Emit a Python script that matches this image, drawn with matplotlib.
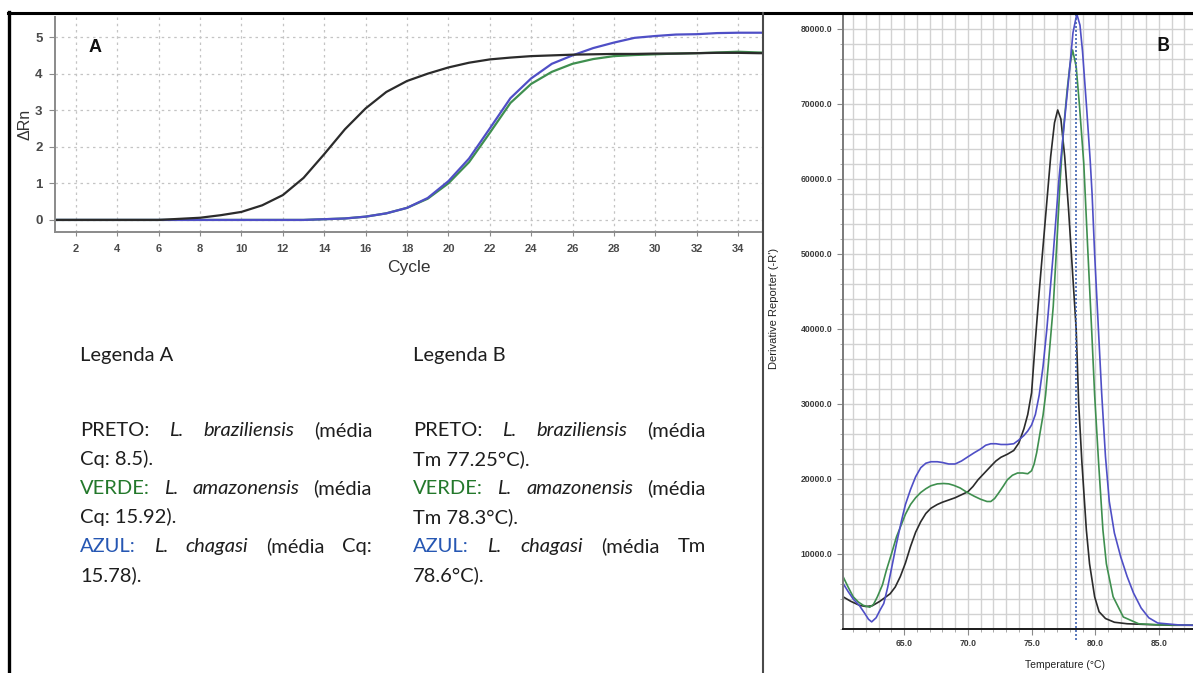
import matplotlib
matplotlib.use("Agg")
import matplotlib.pyplot as plt
from matplotlib.lines import Line2D
from matplotlib.ticker import MultipleLocator, FuncFormatter

W, H, DPI = 1193, 673, 100

# ---- Panel A: amplification plot (delta Rn per cycle) ----
cycles = list(range(1, 37))
rn_braziliensis = [0, 0, 0, 0, 0, 0, 0.03, 0.06, 0.13, 0.22, 0.40, 0.68, 1.15, 1.80,
                   2.48, 3.05, 3.50, 3.80, 4.00, 4.17, 4.30, 4.39, 4.44, 4.48, 4.50,
                   4.52, 4.53, 4.54, 4.54, 4.55, 4.55, 4.56, 4.57, 4.57, 4.56, 4.56]
rn_amazonensis = [0, 0, 0, 0, 0, 0, 0, 0, 0, 0, 0, 0, 0, 0.02,
                  0.04, 0.09, 0.18, 0.33, 0.58, 1.00, 1.58, 2.38, 3.20, 3.72, 4.05,
                  4.27, 4.40, 4.48, 4.51, 4.53, 4.55, 4.56, 4.58, 4.60, 4.58, 4.57]
rn_chagasi = [0, 0, 0, 0, 0, 0, 0, 0, 0, 0, 0, 0, 0, 0.02,
              0.04, 0.09, 0.18, 0.33, 0.60, 1.06, 1.68, 2.50, 3.33, 3.87, 4.27,
              4.50, 4.70, 4.85, 4.98, 5.03, 5.07, 5.08, 5.11, 5.12, 5.12, 5.12]
cycle_ticks = list(range(2, 36, 2))
rn_ticks = [0, 1, 2, 3, 4, 5]

# ---- Panel B: melt curve (derivative reporter vs temperature) ----
temp_braziliensis = [60.2, 60.8, 61.5, 62.0, 62.5, 63.1, 63.9, 64.3, 64.7, 65.1, 65.5, 65.9,
                     66.3, 66.7, 67.1, 67.6, 68.0, 68.5, 69.0, 69.5, 70.0, 70.4, 70.8, 71.3,
                     71.8, 72.2, 72.6, 73.1, 73.6, 74.0, 74.4, 74.7, 75.0, 75.3, 75.6, 75.9,
                     76.2, 76.5, 76.8, 77.05, 77.3, 77.6, 77.9, 78.2, 78.5, 78.7, 78.95, 79.3,
                     79.55, 79.95, 80.3, 80.8, 81.5, 82.5, 84.0, 86.0, 87.7]
deriv_braziliensis = [4300, 3700, 3150, 3000, 3100, 3700, 4700, 5600, 7000, 8800, 11000, 12900,
                      14300, 15400, 16100, 16600, 16900, 17200, 17500, 17900, 18300, 19000, 19900, 20800,
                      21700, 22400, 22900, 23300, 23800, 24800, 26700, 28600, 31500, 38500, 45000, 51000,
                      57000, 63000, 67500, 69200, 68000, 63000, 56000, 48000, 40000, 30000, 22200, 13200,
                      8700, 4300, 2300, 1400, 900, 700, 600, 500, 500]

temp_amazonensis = [60.2, 60.6, 61.0, 61.4, 61.8, 62.3, 62.6, 62.9, 63.3, 63.6, 64.0, 64.4,
                    64.8, 65.1, 65.5, 65.9, 66.3, 66.7, 67.1, 67.6, 68.1, 68.5, 68.9, 69.4,
                    69.95, 70.5, 71.0, 71.5, 71.8, 72.1, 72.4, 72.8, 73.1, 73.5, 73.9, 74.3,
                    74.7, 75.0, 75.2, 75.4, 75.6, 75.9, 76.1, 76.3, 76.5, 76.7, 77.0, 77.25,
                    77.5, 77.8, 78.0, 78.22, 78.5, 78.75, 79.1, 79.4, 79.74, 79.95, 80.26, 80.6,
                    80.87, 81.4, 82.2, 83.4, 85.0, 87.7]
deriv_amazonensis = [7000, 5600, 4300, 3600, 3150, 2900, 3300, 4300, 5900, 7800, 10000, 12300,
                     14000, 15300, 16600, 17500, 18200, 18700, 19100, 19350, 19400, 19350, 19150, 18800,
                     18200, 17700, 17300, 17000, 17000, 17400, 18100, 19100, 19900, 20500, 20800, 20800,
                     20700, 21100, 22000, 23500, 25500, 28500, 31200, 35000, 39000, 43000, 52000, 60000,
                     66500, 72000, 75000, 77200, 75000, 70000, 62000, 51000, 39000, 31200, 22200, 13200,
                     8700, 4300, 1600, 700, 550, 500]

temp_chagasi = [60.2, 60.6, 61.0, 61.5, 61.9, 62.2, 62.45, 62.8, 63.1, 63.4, 63.7, 64.0,
                64.4, 64.8, 65.1, 65.5, 65.9, 66.3, 66.7, 67.1, 67.6, 68.0, 68.5, 69.0,
                69.5, 69.95, 70.5, 71.0, 71.4, 71.8, 72.2, 72.6, 73.1, 73.6, 74.0, 74.4,
                74.7, 75.0, 75.3, 75.6, 75.9, 76.2, 76.7, 77.15, 77.6, 77.95, 78.25, 78.55,
                78.8, 79.0, 79.3, 79.6, 79.75, 79.95, 80.26, 80.5, 80.8, 81.1, 81.5, 82.0,
                82.5, 83.0, 83.6, 84.2, 84.9, 86.5, 87.7]
deriv_chagasi = [6100, 5000, 4000, 3100, 2100, 1300, 950, 1500, 2500, 3400, 5500, 8000,
                 11400, 14500, 16600, 18600, 20300, 21500, 22100, 22300, 22300, 22200, 22000, 22000,
                 22400, 22900, 23500, 24000, 24500, 24700, 24700, 24600, 24600, 24700, 25200, 25800,
                 26400, 27200, 28600, 31200, 35000, 40000, 50000, 60000, 68000, 74000, 79500, 82000,
                 80500, 77000, 70000, 62500, 58000, 50000, 39500, 31500, 23000, 17000, 12800, 9600,
                 7000, 4800, 2800, 1500, 800, 550, 500]
marker_temp = 78.5
temp_ticks = [65, 70, 75, 80, 85]
deriv_ticks = [10000, 20000, 30000, 40000, 50000, 60000, 70000, 80000]

C_BLACK = "#2b2b2b"
C_GREEN = "#3f8f4f"
C_BLUE = "#4f4fc6"

fig = plt.figure(figsize=(W / DPI, H / DPI), dpi=DPI)
fig.patch.set_facecolor("white")


def box(left, top, right, bottom):
    return [left / W, 1 - bottom / H, (right - left) / W, (bottom - top) / H]


SANS = ["Liberation Sans", "DejaVu Sans"]

# ---------------- Panel A ----------------
axA = fig.add_axes(box(55, 17, 762, 232))
axA.plot(cycles, rn_amazonensis, color=C_GREEN, lw=1.6)
axA.plot(cycles, rn_chagasi, color=C_BLUE, lw=1.6)
axA.plot(cycles, rn_braziliensis, color=C_BLACK, lw=1.6)
axA.set_xlim(0.985, 35.16)
axA.set_ylim(-0.33, 5.55)
axA.set_xticks(cycle_ticks)
axA.set_yticks(rn_ticks)
axA.grid(True, color="#c4c4c4", lw=0.9, linestyle=(0, (2, 3)))
for s in ("top", "right"):
    axA.spines[s].set_visible(False)
for s in ("left", "bottom"):
    axA.spines[s].set_color("#8a8a8a")
    axA.spines[s].set_linewidth(1.4)
axA.tick_params(axis="x", colors="#8a8a8a", labelcolor="#4a4a4a", labelsize=8, length=3, pad=6)
axA.tick_params(axis="y", colors="#8a8a8a", labelcolor="#4a4a4a", labelsize=9.5, length=4, pad=5)
for lab in axA.get_xticklabels() + axA.get_yticklabels():
    lab.set_family(SANS)
    lab.set_fontweight("bold")
axA.set_xlabel("Cycle", family=SANS, fontsize=12.5, color="#333333", labelpad=4)
axA.set_ylabel("ΔRn", family=SANS, fontsize=11.5, color="#333333", labelpad=2)
axA.text(0.048, 0.86, "A", transform=axA.transAxes, family=SANS, fontsize=13,
         fontweight="bold", color="#111111", ha="left", va="center")

# ---------------- Panel B ----------------
axB = fig.add_axes(box(843, 13, 1193, 629))
axB.set_xlim(60.2, 87.67)
axB.set_ylim(0, 82130)
axB.xaxis.set_major_locator(MultipleLocator(5))
axB.xaxis.set_minor_locator(MultipleLocator(1))
axB.yaxis.set_major_locator(MultipleLocator(10000))
axB.yaxis.set_minor_locator(MultipleLocator(2000))
axB.set_xticks(temp_ticks)
axB.set_yticks(deriv_ticks)
axB.xaxis.set_major_formatter(FuncFormatter(lambda v, p: f"{v:.1f}"))
axB.yaxis.set_major_formatter(FuncFormatter(lambda v, p: f"{v:.1f}"))
axB.grid(True, which="both", color="#d2d2d2", lw=1.0)
axB.set_axisbelow(True)
axB.plot(temp_braziliensis, deriv_braziliensis, color=C_BLACK, lw=1.2)
axB.plot(temp_amazonensis, deriv_amazonensis, color=C_GREEN, lw=1.2)
axB.plot(temp_chagasi, deriv_chagasi, color=C_BLUE, lw=1.2)
axB.axvline(marker_temp, ymin=-0.018, ymax=1, color="#3f62b0", lw=1.2,
            linestyle=(0, (1.2, 1.2)), clip_on=False)
for s in ("top", "right"):
    axB.spines[s].set_visible(False)
axB.spines["left"].set_color("#7a7a7a")
axB.spines["left"].set_linewidth(1.4)
axB.spines["bottom"].set_color("#1a1a1a")
axB.spines["bottom"].set_linewidth(1.4)
axB.tick_params(axis="both", which="major", colors="#8a8a8a", labelcolor="#3a3a3a",
                labelsize=6.2, length=4)
axB.tick_params(axis="both", which="minor", colors="#9a9a9a", length=2)
for lab in axB.get_xticklabels() + axB.get_yticklabels():
    lab.set_family(SANS)
    lab.set_fontweight("bold")
fig.text(1065 / W, 1 - 665 / H, "Temperature (°C)", family=SANS, fontsize=7.5,
         color="#222222", ha="center", va="center")
fig.text(774 / W, 1 - 308 / H, "Derivative Reporter (-R')", family=SANS, fontsize=8,
         color="#222222", ha="center", va="center", rotation=90)
axB.text(0.915, 0.948, "B", transform=axB.transAxes, family=["Lato", "DejaVu Sans"],
         fontsize=14, fontweight="bold", color="#111111", ha="center", va="center")

# ---------------- frame lines ----------------
fig.add_artist(Line2D([8 / W, 1.0], [1 - 12.5 / H] * 2, color="black", lw=2.2,
                      transform=fig.transFigure))
fig.add_artist(Line2D([8.5 / W] * 2, [0, 1 - 12 / H], color="black", lw=2.4,
                      transform=fig.transFigure))
fig.add_artist(Line2D([762.5 / W] * 2, [0, 1 - 13 / H], color="#4a4a4a", lw=1.5,
                      transform=fig.transFigure))

# ---------------- legends (justified text blocks) ----------------
TXT = ["Lato", "DejaVu Sans"]
FS = 14.5
INK = "#1e1e1e"
GREEN_TXT = "#23782b"
BLUE_TXT = "#2657b3"
IT = {"style": "italic"}

legend_a_title = "Legenda A"
legend_b_title = "Legenda B"

legend_a_lines = [
    ([("PRETO:", {}), ("L.", IT), ("braziliensis", IT), ("(média", {})], True),
    ([("Cq: 8.5).", {})], False),
    ([("VERDE:", {"color": GREEN_TXT}), ("L.", IT), ("amazonensis", IT), ("(média", {})], True),
    ([("Cq: 15.92).", {})], False),
    ([("AZUL:", {"color": BLUE_TXT}), ("L.", IT), ("chagasi", IT), ("(média", {}), ("Cq:", {})], True),
    ([("15.78).", {})], False),
]
legend_b_lines = [
    ([("PRETO:", {}), ("L.", IT), ("braziliensis", IT), ("(média", {})], True),
    ([("Tm 77.25°C).", {})], False),
    ([("VERDE:", {"color": GREEN_TXT}), ("L.", IT), ("amazonensis", IT), ("(média", {})], True),
    ([("Tm 78.3°C).", {})], False),
    ([("AZUL:", {"color": BLUE_TXT}), ("L.", IT), ("chagasi", IT), ("(média", {}), ("Tm", {})], True),
    ([("78.6°C).", {})], False),
]

renderer = fig.canvas.get_renderer()
BASE_SHIFT = 6  # baseline sits a little below the visual line centre


def draw_block(x0, x1, title, title_y, lines, y0, dy):
    fig.text(x0 / W, 1 - (title_y + BASE_SHIFT) / H, title, family=TXT, fontsize=FS,
             color=INK, ha="left", va="baseline")
    for i, (tokens, justify) in enumerate(lines):
        y = 1 - (y0 + i * dy + BASE_SHIFT) / H
        arts = []
        for s, st in tokens:
            kw = {"color": INK}
            kw.update(st)
            arts.append(fig.text(0, y, s, family=TXT, fontsize=FS, ha="left",
                                 va="baseline", **kw))
        widths = [a.get_window_extent(renderer).width for a in arts]
        if justify and len(arts) > 1:
            gap = ((x1 - x0) - sum(widths)) / (len(arts) - 1)
        else:
            gap = 4
        x = x0
        for a, w in zip(arts, widths):
            a.set_x(x / W)
            x += w + gap


draw_block(80, 372, legend_a_title, 355, legend_a_lines, 430, 29)
draw_block(413, 706, legend_b_title, 355, legend_b_lines, 430, 29)

fig.savefig("out.png", dpi=DPI, facecolor="white")
